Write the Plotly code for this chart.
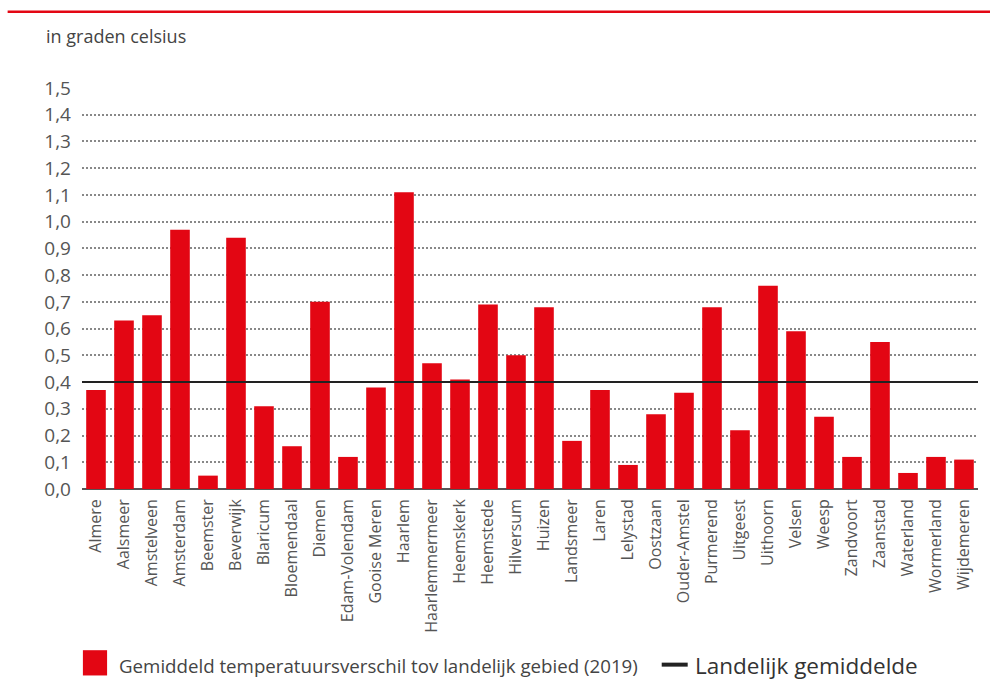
import plotly.graph_objects as go

municipalities = ["Almere", "Aalsmeer", "Amstelveen", "Amsterdam", "Beemster", "Beverwijk",
                  "Blaricum", "Bloemendaal", "Diemen", "Edam-Volendam", "Gooise Meren", "Haarlem",
                  "Haarlemmermeer", "Heemskerk", "Heemstede", "Hilversum", "Huizen", "Landsmeer",
                  "Laren", "Lelystad", "Oostzaan", "Ouder-Amstel", "Purmerend", "Uitgeest",
                  "Uithoorn", "Velsen", "Weesp", "Zandvoort", "Zaanstad", "Waterland",
                  "Wormerland", "Wijdemeren"]
temp_diff = [0.37, 0.63, 0.65, 0.97, 0.05, 0.94,
             0.31, 0.16, 0.70, 0.12, 0.38, 1.11,
             0.47, 0.41, 0.69, 0.50, 0.68, 0.18,
             0.37, 0.09, 0.28, 0.36, 0.68, 0.22,
             0.76, 0.59, 0.27, 0.12, 0.55, 0.06,
             0.12, 0.11]
national_avg = 0.4
y_ticks = [0.0, 0.1, 0.2, 0.3, 0.4, 0.5, 0.6, 0.7, 0.8, 0.9, 1.0, 1.1, 1.2, 1.3, 1.4, 1.5]

RED = "#e30613"
FONT = "Open Sans"

fig = go.Figure()
fig.add_trace(go.Bar(x=municipalities, y=temp_diff, marker=dict(color=RED, line=dict(width=0)),
                     name="Gemiddeld temperatuursverschil tov landelijk gebied (2019)",
                     showlegend=False))

# national average line
fig.add_shape(type="line", xref="paper", x0=0, x1=1, yref="y", y0=national_avg, y1=national_avg,
              line=dict(color="#222222", width=2), layer="above")

# top red rule
fig.add_shape(type="line", xref="paper", yref="paper", x0=-0.083, x1=1.02, y0=1.19, y1=1.19,
              line=dict(color=RED, width=2.5))

fig.add_annotation(text="in graden celsius", xref="paper", yref="paper", x=-0.042, y=1.13,
                   xanchor="left", yanchor="middle", showarrow=False,
                   font=dict(family=FONT, size=18, color="#444444"))

# legend (manual)
fig.add_shape(type="rect", xref="paper", yref="paper", x0=0.001, x1=0.028, y0=-0.465, y1=-0.402,
              fillcolor=RED, line=dict(width=0))
fig.add_annotation(text="Gemiddeld temperatuursverschil tov landelijk gebied (2019)", xref="paper",
                   yref="paper", x=0.039, y=-0.44, xanchor="left", yanchor="middle", showarrow=False,
                   font=dict(family=FONT, size=18.7, color="#444444"))
fig.add_shape(type="line", xref="paper", yref="paper", x0=0.647, x1=0.676, y0=-0.438, y1=-0.438,
              line=dict(color="#222222", width=4))
fig.add_annotation(text="Landelijk gemiddelde", xref="paper",
                   yref="paper", x=0.682, y=-0.44, xanchor="left", yanchor="middle", showarrow=False,
                   font=dict(family=FONT, size=22.5, color="#333333"))

fig.update_layout(
    width=990, height=680,
    margin=dict(l=82, r=12, t=88, b=191),
    paper_bgcolor="white", plot_bgcolor="white",
    separators=",.",
    bargap=0.3,
    font=dict(family=FONT, color="#555555"),
    showlegend=False,
)
fig.update_yaxes(range=[0, 1.5], tickvals=y_ticks, tickformat=".1f",
                 showgrid=True, gridcolor="#888888", gridwidth=1.5, griddash="2px,2px",
                 zeroline=True, zerolinecolor="#555555", zerolinewidth=2,
                 ticks="", ticklabelstandoff=10, tickfont=dict(family=FONT, size=19, color="#555555"),
                 showline=False)
fig.update_xaxes(tickangle=-90, tickfont=dict(family=FONT, size=16, color="#555555"),
                 showgrid=False, showline=False, ticks="", ticklabelstandoff=6)

fig.write_html("out.html")
